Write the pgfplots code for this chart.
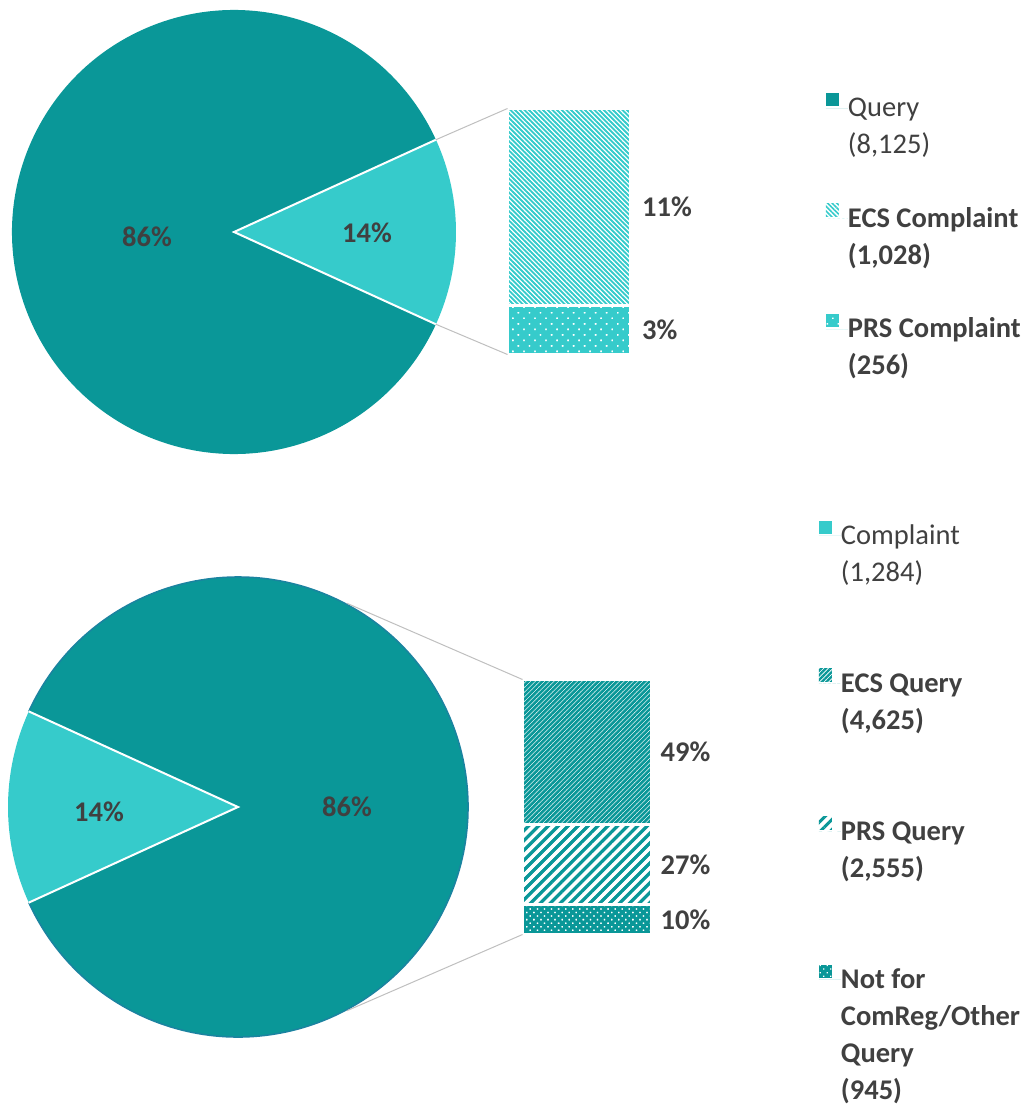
\documentclass[border=0pt]{standalone}
\usepackage{fontspec}
\setmainfont{Carlito}
\usepackage{pgfplots}
\pgfplotsset{compat=1.18}
\usetikzlibrary{patterns.meta}

\definecolor{cteal}{HTML}{0A9798}
\definecolor{ccyan}{HTML}{36CBCB}
\definecolor{cedge}{HTML}{1B83A0}
\definecolor{txtgrey}{HTML}{404040}
\definecolor{lnk}{HTML}{BFBFBF}

\newcommand{\bigfont}{\fontsize{28.5}{34}\selectfont}

\tikzset{
  pct/.style={font=\bigfont\bfseries, text=txtgrey, inner sep=0pt},
  s-ecsC/.style={draw=none, pattern={Lines[angle=-45,distance=3.3pt,line width=1.6pt]}, pattern color=ccyan},
  s-prsC/.style={draw=none, preaction={fill=ccyan}, pattern={Dots[radius=1pt,distance=7.8pt,angle=45]}, pattern color=white},
  s-ecsQ/.style={draw=none, pattern={Lines[angle=45,distance=3.3pt,line width=2.3pt]}, pattern color=cteal},
  s-prsQ/.style={draw=none, pattern={Lines[angle=45,distance=7pt,line width=3pt]}, pattern color=cteal},
  s-othQ/.style={draw=none, preaction={fill=cteal}, pattern={Dots[radius=0.9pt,distance=5pt,angle=45]}, pattern color=white},
  gap/.style={postaction={draw=white, line width=3pt}},
}
\pgfplotsset{
  sq legend/.style={legend image code/.code={%
    \path (0pt,0pt) -- (22pt,0pt);
    \path[##1] (0pt,2pt) rectangle (13pt,15pt);}},
  leg/.style 2 args={legend cell align=left,
    legend style={draw=none, fill=none, at={(#1)}, anchor=north west,
      inner sep=0pt, outer sep=0pt, row sep=0pt, font=\bigfont, text=txtgrey,
      nodes={inner sep=0pt, text height=#2, text depth=10pt}}},
  box/.style={scale only axis, hide axis, clip=false},
}

% counts: Query 8125, ECS Complaint 1028, PRS Complaint 256
%         Complaint 1284, ECS Query 4625, PRS Query 2555, Other 945
\pgfmathsetmacro{\hA}{180*((1028+256)/(8125+1028+256))}
\pgfmathsetmacro{\hB}{180*(1284/(1284+4625+2555+945))}

\begin{document}
\begin{tikzpicture}[x=1pt,y=1pt]
\useasboundingbox (0,0) rectangle (1033,-1107);

% ---------- top pie ----------
\begin{axis}[box, name=pieA, at={(234pt,-232pt)}, anchor=center,
  width=444pt, height=444pt, xmin=-222, xmax=222, ymin=-222, ymax=222,
  leg={1.8333,0.8198}{26.8pt}]
\fill[cteal] (axis cs:0,0) -- (axis cs:{222*cos(\hA)},{222*sin(\hA)})
  arc[start angle=\hA, end angle=360-\hA, radius=222pt] -- cycle;
\fill[ccyan] (axis cs:0,0) -- (axis cs:{222*cos(\hA)},{-222*sin(\hA)})
  arc[start angle=-\hA, end angle=\hA, radius=222pt] -- cycle;
\draw[white, line width=2pt] (axis cs:{222*cos(\hA)},{222*sin(\hA)}) -- (axis cs:0,0)
  -- (axis cs:{222*cos(\hA)},{-222*sin(\hA)});
\node[pct] at (axis cs:-87,-5) {86\%};
\node[pct] at (axis cs:133,-1) {14\%};
\coordinate (pA1) at (axis cs:{222*cos(\hA)},{222*sin(\hA)});
\coordinate (pA2) at (axis cs:{222*cos(\hA)},{-222*sin(\hA)});
\addlegendimage{sq legend, fill=cteal, draw=none}\addlegendentry{Query}
\addlegendimage{empty legend}\addlegendentry{(8,125)}
\addlegendimage{empty legend}\addlegendentry{\mbox{}}
\addlegendimage{sq legend, s-ecsC}\addlegendentry{\textbf{ECS Complaint}}
\addlegendimage{empty legend}\addlegendentry{\textbf{(1,028)}}
\addlegendimage{empty legend}\addlegendentry{\mbox{}}
\addlegendimage{sq legend, s-prsC}\addlegendentry{\textbf{PRS Complaint}}
\addlegendimage{empty legend}\addlegendentry{\textbf{(256)}}
\end{axis}

% ---------- top bar ----------
\begin{axis}[box, name=barA, at={(507.5pt,-108.5pt)}, anchor=north west,
  width=123pt, height=246pt, xmin=-0.5, xmax=0.5, ymin=0, ymax=1284,
  ybar stacked, bar width=1]
\addplot[s-prsC, gap] coordinates {(0,256)};
\addplot[s-ecsC, gap] coordinates {(0,1028)};
\node[pct, anchor=west, xshift=11.5pt] at (axis cs:0.5,770) {11\%};
\node[pct, anchor=west, xshift=11.5pt] at (axis cs:0.5,128) {3\%};
\coordinate (bA1) at (rel axis cs:0,1);
\coordinate (bA2) at (rel axis cs:0,0);
\end{axis}

% ---------- bottom pie ----------
\begin{axis}[box, name=pieB, at={(238pt,-807pt)}, anchor=center,
  width=460pt, height=460pt, xmin=-230, xmax=230, ymin=-230, ymax=230,
  leg={1.763,1.13}{27pt}]
\fill[cteal] (axis cs:0,0) -- (axis cs:{-230*cos(\hB)},{230*sin(\hB)})
  arc[start angle=180-\hB, end angle=-180+\hB, radius=230pt] -- cycle;
\draw[cedge, line width=1.5pt] (axis cs:{-230*cos(\hB)},{230*sin(\hB)})
  arc[start angle=180-\hB, end angle=-180+\hB, radius=230pt];
\fill[ccyan] (axis cs:0,0) -- (axis cs:{-230*cos(\hB)},{230*sin(\hB)})
  arc[start angle=180-\hB, end angle=180+\hB, radius=230pt] -- cycle;
\draw[white, line width=2pt] (axis cs:{-230*cos(\hB)},{230*sin(\hB)}) -- (axis cs:0,0)
  -- (axis cs:{-230*cos(\hB)},{-230*sin(\hB)});
\node[pct] at (axis cs:-139,-5) {14\%};
\node[pct] at (axis cs:109,0) {86\%};
\coordinate (pB1) at (axis cs:{231*cos(61.9)},{231*sin(61.9)});
\coordinate (pB2) at (axis cs:{231*cos(61.9)},{-231*sin(61.9)});
\addlegendimage{sq legend, fill=ccyan, draw=none}\addlegendentry{Complaint}
\addlegendimage{empty legend}\addlegendentry{(1,284)}
\addlegendimage{empty legend}\addlegendentry{\mbox{}}
\addlegendimage{empty legend}\addlegendentry{\mbox{}}
\addlegendimage{sq legend, s-ecsQ}\addlegendentry{\textbf{ECS Query}}
\addlegendimage{empty legend}\addlegendentry{\textbf{(4,625)}}
\addlegendimage{empty legend}\addlegendentry{\mbox{}}
\addlegendimage{empty legend}\addlegendentry{\mbox{}}
\addlegendimage{sq legend, s-prsQ}\addlegendentry{\textbf{PRS Query}}
\addlegendimage{empty legend}\addlegendentry{\textbf{(2,555)}}
\addlegendimage{empty legend}\addlegendentry{\mbox{}}
\addlegendimage{empty legend}\addlegendentry{\mbox{}}
\addlegendimage{sq legend, s-othQ}\addlegendentry{\textbf{Not for}}
\addlegendimage{empty legend}\addlegendentry{\textbf{ComReg/Other}}
\addlegendimage{empty legend}\addlegendentry{\textbf{Query}}
\addlegendimage{empty legend}\addlegendentry{\textbf{(945)}}
\end{axis}

% ---------- bottom bar ----------
\begin{axis}[box, name=barB, at={(522.5pt,-679.5pt)}, anchor=north west,
  width=129pt, height=255pt, xmin=-0.5, xmax=0.5, ymin=0, ymax=8125,
  ybar stacked, bar width=1]
\addplot[s-othQ, gap] coordinates {(0,945)};
\addplot[s-prsQ, gap] coordinates {(0,2555)};
\addplot[s-ecsQ, gap] coordinates {(0,4625)};
\node[pct, anchor=west, xshift=9pt] at (axis cs:0.5,5812) {49\%};
\node[pct, anchor=west, xshift=9pt] at (axis cs:0.5,2222) {27\%};
\node[pct, anchor=west, xshift=9pt] at (axis cs:0.5,472) {10\%};
\coordinate (bB1) at (rel axis cs:0,1);
\coordinate (bB2) at (rel axis cs:0,0);
\end{axis}

\draw[lnk, line width=1pt] (pA1) -- (bA1) (pA2) -- (bA2) (pB1) -- (bB1) (pB2) -- (bB2);
\end{tikzpicture}
\end{document}
